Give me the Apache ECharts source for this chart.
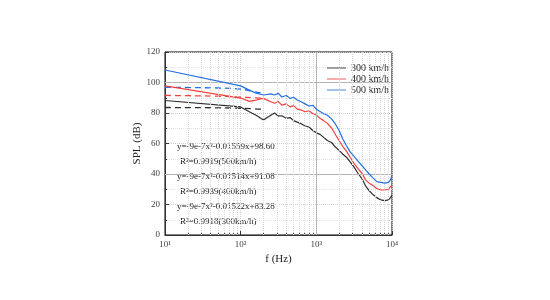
<!DOCTYPE html>
<html>
<head>
<meta charset="utf-8">
<script src="https://cdn.jsdelivr.net/npm/echarts@6/dist/echarts.min.js"></script>
<style>html,body{margin:0;padding:0;background:#fff}#chart{width:550px;height:300px}</style>
</head>
<body>
<div id="chart"></div>
<script>
var freq = [10, 100, 130, 160, 200, 250, 280, 315, 350, 400, 450, 500, 560, 630, 710, 800, 900, 1000,
    1120, 1250, 1400, 1600, 1800, 2000, 2240, 2500, 2800, 3150, 3550, 4000, 4500, 5000, 5600, 6300,
    7100, 8000, 8500, 9000, 9500, 10000];
var spl300 = [88.2, 84.0, 80.8, 78.5, 75.4, 78.5, 80.0, 78.0, 78.2, 76.5, 77.0, 75.0, 74.0, 73.0, 71.5, 70.8, 68.5, 67.0,
    66.0, 64.0, 62.0, 60.5, 57.5, 55.5, 53.0, 51.0, 48.0, 44.5, 40.5, 37.0, 32.0, 29.0, 26.5, 24.5,
    23.0, 22.5, 23.5, 23.0, 24.5, 26.0];
var spl400 = [97.8, 89.8, 87.6, 88.5, 89.6, 87.4, 86.4, 87.5, 85.2, 86.0, 84.0, 84.8, 82.5, 82.0, 80.8, 81.5, 79.5, 78.7,
    76.5, 75.0, 73.2, 70.0, 65.6, 62.0, 58.0, 55.0, 51.0, 47.0, 43.5, 40.5, 36.0, 34.0, 32.5, 30.5,
    29.5, 29.5, 30.5, 30.0, 31.5, 32.8];
var spl500 = [108.2, 97.8, 95.0, 93.0, 91.8, 92.5, 91.8, 92.9, 90.5, 91.5, 89.6, 90.3, 88.5, 87.4, 86.0, 84.6, 85.0, 82.5,
    81.0, 79.5, 78.5, 76.0, 72.5, 68.5, 63.0, 58.5, 54.5, 51.5, 48.5, 45.5, 42.5, 40.0, 37.5, 35.0,
    34.5, 34.0, 35.0, 34.5, 36.0, 39.0];
// fitted curves (dashed), low-frequency part only
var fitFreq = [10, 50, 100, 150, 200];
var fit300 = [83.6, 83.4, 83.1, 82.8, 82.4];
var fit400 = [91.5, 91.0, 90.4, 90.0, 89.6];
var fit500 = [96.8, 96.4, 95.6, 94.0, 92.8];
// minor ticks of the log axis
var minorFreq = [20, 30, 40, 50, 60, 70, 80, 90, 200, 300, 400, 500, 600, 700, 800, 900,
    2000, 3000, 4000, 5000, 6000, 7000, 8000, 9000];
var names = ['300 km/h', '400 km/h', '500 km/h'];
var fitText = [
    'y=-9e-7x\u00b2-0.01559x+98.60', 'R\u00b2=0.9919(500km/h)',
    'y=-9e-7x\u00b2-0.01514x+91.08', 'R\u00b2=0.9939(400km/h)',
    'y=-9e-7x\u00b2-0.01522x+83.28', 'R\u00b2=0.9918(300km/h)'
];
var colors = ['#2e2e2e', '#f2403c', '#2370e0'];
var font = '"Liberation Serif", "Times New Roman", serif';
var sup = {1: '\u00b9', 2: '\u00b2', 3: '\u00b3', 4: '\u2074'};

function pairs(xs, ys) {
    return xs.map(function (x, i) { return [x, ys[i]]; });
}

var myChart = echarts.init(document.getElementById('chart'));
var gridSeries = {
    type: 'line', data: [], silent: true,
    markLine: {
        symbol: 'none', silent: true, label: {show: false},
        lineStyle: {color: '#b4b4b4', type: 'solid', width: 1},
        data: [{yAxis: 100}, {yAxis: 40}, {xAxis: 1000}]
    }
};
var minorSeries = {
    type: 'line', data: [], silent: true,
    markLine: {
        symbol: 'none', silent: true, label: {show: false},
        lineStyle: {color: '#d8d8d8', type: 'dotted', width: 1},
        data: minorFreq.map(function (f) { return {xAxis: f}; })
    }
};
var series = [gridSeries, minorSeries];
[spl300, spl400, spl500].forEach(function (d, i) {
    series.push({
        name: names[i], type: 'line', data: pairs(freq, d), symbol: 'none',
        lineStyle: {color: colors[i], width: 1.2}, itemStyle: {color: colors[i]}, z: 3 + i
    });
});
[fit300, fit400, fit500].forEach(function (d, i) {
    series.push({
        name: 'fit' + i, type: 'line', data: pairs(fitFreq, d), symbol: 'none', smooth: true,
        lineStyle: {color: colors[i], width: 1.3, type: [6, 4]}, z: 3
    });
});

var graphics = fitText.map(function (t, i) {
    return {
        type: 'text', left: i % 2 ? 180 : 177, top: 142 + i * 15,
        style: {text: t, font: '9px ' + font, fill: '#222'}
    };
});

var option = {
    animation: false,
    textStyle: {fontFamily: font},
    grid: {left: 165, right: 158, top: 52, bottom: 65, show: true, borderColor: '#000', borderWidth: 1},
    legend: {
        data: names, orient: 'vertical', left: 322, top: 58, itemGap: 1,
        itemWidth: 19, itemHeight: 8, icon: 'path://M0,4L22,4L22,5L0,5Z',
        textStyle: {fontFamily: font, fontSize: 10, color: '#222'}
    },
    xAxis: [{
        type: 'log', logBase: 10, min: 10, max: 10000,
        name: 'f (Hz)', nameLocation: 'middle', nameGap: 18,
        nameTextStyle: {fontFamily: font, fontSize: 11, color: '#222'},
        axisLine: {lineStyle: {color: '#333'}},
        axisTick: {inside: true, length: 4, lineStyle: {color: '#333'}},
        axisLabel: {
            fontFamily: font, fontSize: 9, color: '#444', margin: 5,
            formatter: function (v) { return '10' + sup[Math.round(Math.log10(v))]; }
        },
        splitLine: {show: true, lineStyle: {color: '#cfcfcf', type: 'dotted'}}
    }, {
        type: 'log', logBase: 10, min: 10, max: 10000, position: 'bottom',
        axisLine: {show: false},
        axisLabel: {show: false},
        axisTick: {show: true, inside: true, length: 2, customValues: minorFreq, lineStyle: {color: '#333'}},
        splitLine: {show: false}
    }],
    yAxis: {
        type: 'value', min: 0, max: 120, interval: 20,
        name: 'SPL (dB)', nameLocation: 'middle', nameGap: 18,
        nameTextStyle: {fontFamily: font, fontSize: 11, color: '#222'},
        axisLine: {show: true, lineStyle: {color: '#333'}},
        axisTick: {inside: true, length: 4, lineStyle: {color: '#333'}},
        minorTick: {show: true, splitNumber: 2, length: 2},
        axisLabel: {fontFamily: font, fontSize: 9, color: '#444', margin: 5},
        splitLine: {show: true, lineStyle: {color: '#cfcfcf', type: 'dotted'}},
        minorSplitLine: {show: true, lineStyle: {color: '#e2e2e2', type: 'dotted'}}
    },
    graphic: graphics,
    series: series
};
myChart.setOption(option);
</script>
</body>
</html>
